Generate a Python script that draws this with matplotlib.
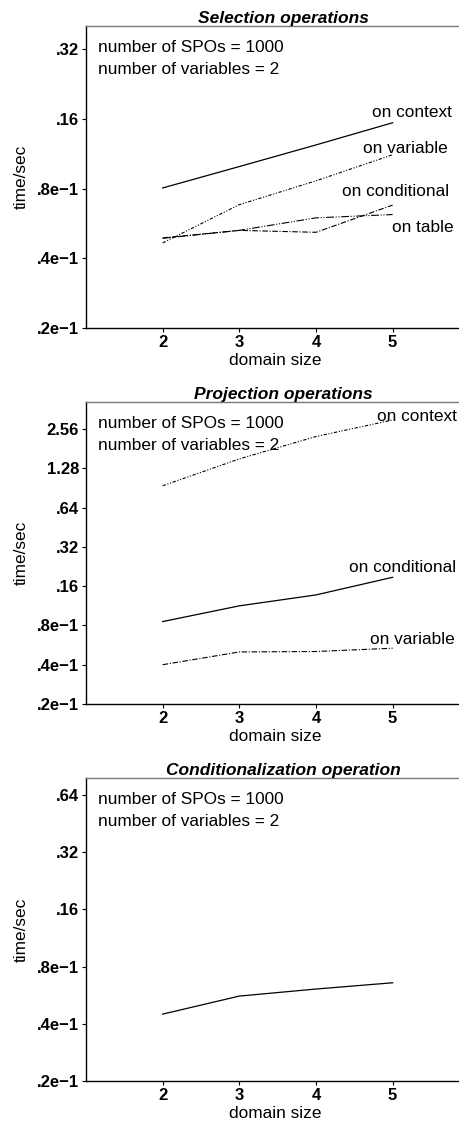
import matplotlib
matplotlib.use("Agg")
import matplotlib.pyplot as plt
from matplotlib.ticker import FixedLocator, NullLocator

plt.rcParams['font.family'] = ['Liberation Sans', 'DejaVu Sans']

domain_size = [2, 3, 4, 5]

# Selection operations (time in seconds)
sel_context = [0.0805, 0.0996, 0.1235, 0.154]
sel_variable = [0.0466, 0.0682, 0.0864, 0.112]
sel_conditional = [0.0490, 0.0528, 0.0518, 0.0679]
sel_table = [0.0488, 0.0528, 0.0598, 0.0618]

# Projection operations
proj_context = [0.94, 1.51, 2.24, 3.0]
proj_conditional = [0.0856, 0.113, 0.137, 0.187]
proj_variable = [0.040, 0.0501, 0.0505, 0.0535]

# Conditionalization operation
cond_op = [0.045, 0.056, 0.061, 0.0658]

sel_ticks = [0.02, 0.04, 0.08, 0.16, 0.32]
sel_ticklabels = ['.2e\u22121', '.4e\u22121', '.8e\u22121', '.16', '.32']
proj_ticks = [0.02, 0.04, 0.08, 0.16, 0.32, 0.64, 1.28, 2.56]
proj_ticklabels = ['.2e\u22121', '.4e\u22121', '.8e\u22121', '.16', '.32', '.64', '1.28', '2.56']
cond_ticks = [0.02, 0.04, 0.08, 0.16, 0.32, 0.64]
cond_ticklabels = ['.2e\u22121', '.4e\u22121', '.8e\u22121', '.16', '.32', '.64']

W, H = 459, 1123
fig = plt.figure(figsize=(W / 100, H / 100), dpi=100)

FS = 12.4  # text size for labels and notes

# line styles
SOLID = '-'
DASH_DOT_DOT = (0, (3, 1.5, 1, 1.5, 1, 1.5))
DASH_DOT = (0, (5, 1.5, 1, 1.5))
LONG_DASH_DOT = (0, (7, 1.5, 1, 1.5, 1, 1.5))


def make_axes(top_px, bottom_px, title, ticks, ticklabels, ymax):
    left_px, right_px = 86, 480
    ax = fig.add_axes([left_px / W, 1 - bottom_px / H,
                       (right_px - left_px) / W, (bottom_px - top_px) / H])
    ax.set_yscale('log', base=2)
    ax.set_xlim(1, 6.14)
    ax.set_ylim(0.02, ymax)
    ax.yaxis.set_major_locator(FixedLocator(ticks))
    ax.yaxis.set_minor_locator(NullLocator())
    ax.set_yticklabels(ticklabels, fontweight='bold', fontsize=12)
    ax.set_xticks(domain_size)
    ax.set_xticklabels([str(d) for d in domain_size], fontweight='bold', fontsize=12)
    ax.tick_params(axis='both', direction='out', length=3, width=0.8, pad=2)
    ax.spines['right'].set_visible(False)
    ax.spines['top'].set_color('#777777')
    ax.spines['top'].set_linewidth(1.0)
    ax.spines['left'].set_linewidth(1.0)
    ax.spines['bottom'].set_linewidth(1.0)
    ax.set_title(title, fontweight='bold', fontstyle='italic', fontsize=12.5, pad=2)
    ax.set_xlabel('domain size', fontsize=FS)
    ax.xaxis.set_label_coords(0.48, -0.082)
    ax.set_ylabel('time/sec', fontsize=FS)
    ax.yaxis.set_label_coords(-0.145, 0.5)
    ax.text(0.03, 0.928, 'number of SPOs = 1000', transform=ax.transAxes,
            fontsize=FS, va='center')
    ax.text(0.03, 0.855, 'number of variables = 2', transform=ax.transAxes,
            fontsize=FS, va='center')
    return ax


# Selection operations
ax1 = make_axes(26, 328, 'Selection operations', sel_ticks, sel_ticklabels, 0.403)
ax1.plot(domain_size, sel_context, color='black', lw=0.9, ls=SOLID)
ax1.plot(domain_size, sel_variable, color='black', lw=0.8, ls=DASH_DOT_DOT)
ax1.plot(domain_size, sel_conditional, color='black', lw=0.8, ls=DASH_DOT)
ax1.plot(domain_size, sel_table, color='black', lw=0.8, ls=LONG_DASH_DOT)
ax1.text(0.928, 0.713, 'on context', transform=ax1.transAxes, ha='right', va='center', fontsize=FS)
ax1.text(0.919, 0.595, 'on variable', transform=ax1.transAxes, ha='right', va='center', fontsize=FS)
ax1.text(0.922, 0.451, 'on conditional', transform=ax1.transAxes, ha='right', va='center', fontsize=FS)
ax1.text(0.934, 0.332, 'on table', transform=ax1.transAxes, ha='right', va='center', fontsize=FS)

# Projection operations
ax2 = make_axes(402, 704, 'Projection operations', proj_ticks, proj_ticklabels, 4.12)
ax2.plot(domain_size, proj_context, color='black', lw=0.8, ls=DASH_DOT_DOT)
ax2.plot(domain_size, proj_conditional, color='black', lw=0.9, ls=SOLID)
ax2.plot(domain_size, proj_variable, color='black', lw=0.8, ls=DASH_DOT)
ax2.text(0.942, 0.952, 'on context', transform=ax2.transAxes, ha='right', va='center', fontsize=FS)
ax2.text(0.939, 0.453, 'on conditional', transform=ax2.transAxes, ha='right', va='center', fontsize=FS)
ax2.text(0.937, 0.214, 'on variable', transform=ax2.transAxes, ha='right', va='center', fontsize=FS)

# Conditionalization operation
ax3 = make_axes(778, 1081, 'Conditionalization operation', cond_ticks, cond_ticklabels, 0.788)
ax3.plot(domain_size, cond_op, color='black', lw=0.9, ls=SOLID)

fig.savefig('out.png', dpi=100)
